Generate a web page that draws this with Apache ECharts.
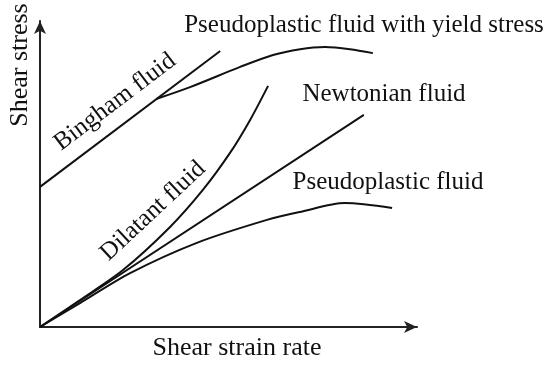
<!DOCTYPE html>
<html>
<head>
<meta charset="utf-8">
<script src="https://cdn.jsdelivr.net/npm/echarts@6/dist/echarts.min.js"></script>
<style>
html,body{margin:0;padding:0;background:#fff;}
#chart{width:550px;height:366px;}
</style>
</head>
<body>
<div id="chart"></div>
<script>
// Data (arbitrary units)
var binghamX = [0, 4.78];
var binghamY = [4.58, 9.02];

var yieldX = [3.10, 3.98, 5.31, 6.18, 6.90, 7.56, 8.22, 8.83];
var yieldY = [7.46, 7.84, 8.50, 8.89, 9.08, 9.15, 9.08, 8.95];

var newtonX = [0, 8.59];
var newtonY = [0, 6.93];

var dilatantX = [0, 1.06, 2.20, 3.45, 4.32, 5.04, 5.57, 6.05];
var dilatantY = [0, 0.88, 1.86, 3.27, 4.48, 5.69, 6.76, 7.88];

var pseudoX = [0, 1.06, 2.39, 4.16, 6.02, 6.90, 8.09, 9.34];
var pseudoY = [0, 0.78, 1.76, 2.75, 3.50, 3.76, 4.05, 3.89];

var xAxisTitle = 'Shear strain rate';
var yAxisTitle = 'Shear stress';
var labelBingham = 'Bingham fluid';
var labelYield = 'Pseudoplastic fluid with yield stress';
var labelNewton = 'Newtonian fluid';
var labelDilatant = 'Dilatant fluid';
var labelPseudo = 'Pseudoplastic fluid';

function pairs(xs, ys) {
  return xs.map(function (x, i) { return [x, ys[i]]; });
}

var FONT = '"Liberation Serif", "Times New Roman", serif';
var INK = '#111';

function lineSeries(name, xs, ys, smooth) {
  return {
    name: name,
    type: 'line',
    data: pairs(xs, ys),
    smooth: smooth,
    showSymbol: false,
    symbol: 'none',
    silent: true,
    lineStyle: { color: INK, width: 2 },
    z: 3
  };
}

function label(text, x, y, rotDeg, size) {
  return {
    type: 'text',
    x: x,
    y: y,
    rotation: (rotDeg || 0) * Math.PI / 180,
    style: {
      text: text,
      fill: INK,
      font: (size || 25) + 'px ' + FONT,
      align: 'center',
      verticalAlign: 'middle',
      textAlign: 'center',
      textVerticalAlign: 'middle'
    }
  };
}

var chart = echarts.init(document.getElementById('chart'), null, { renderer: 'canvas' });

var axisCommon = {
  type: 'value',
  min: 0,
  max: 10,
  axisLine: {
    show: true,
    symbol: ['none', 'arrow'],
    symbolSize: [9, 13],
    lineStyle: { color: '#222', width: 2 }
  },
  axisTick: { show: false },
  axisLabel: { show: false },
  splitLine: { show: false }
};

chart.setOption({
  animation: false,
  backgroundColor: '#fff',
  grid: { left: 40, right: 133, top: 21, bottom: 39, containLabel: false },
  xAxis: axisCommon,
  yAxis: axisCommon,
  series: [
    lineSeries('Bingham fluid', binghamX, binghamY, false),
    lineSeries('Pseudoplastic fluid with yield stress', yieldX, yieldY, 0.3),
    lineSeries('Newtonian fluid', newtonX, newtonY, false),
    lineSeries('Dilatant fluid', dilatantX, dilatantY, 0.3),
    lineSeries('Pseudoplastic fluid', pseudoX, pseudoY, 0.3)
  ],
  graphic: [
    label(yAxisTitle, 20, 65, 90, 26),
    label(xAxisTitle, 237, 348, 0, 26),
    label(labelYield, 364, 25, 0),
    label(labelNewton, 384, 94, 0),
    label(labelPseudo, 388, 182, 0),
    label(labelBingham, 115, 102, 37),
    label(labelDilatant, 153, 211, 43)
  ]
});
</script>
</body>
</html>
